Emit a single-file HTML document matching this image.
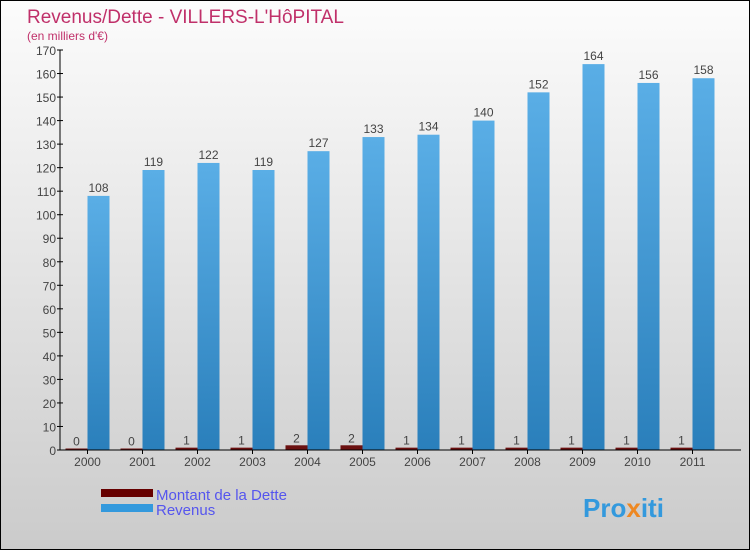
<!DOCTYPE html>
<html><head><meta charset="utf-8"><style>
body{margin:0}
#c{width:748px;height:548px;border:1px solid #000;background:linear-gradient(#fcfcfc,#cbcbcb);position:relative;overflow:hidden;font-family:"Liberation Sans",sans-serif}
</style></head><body>
<div id="c">
<svg id="s" width="748" height="548" xmlns="http://www.w3.org/2000/svg" style="position:absolute;left:0;top:0">
<text x="26" y="22" font-size="19" fill="#c0306a">Revenus/Dette - VILLERS-L'HôPITAL</text>
<text x="26" y="39" font-size="12" fill="#c0306a">(en milliers d'€)</text>
<g id="plot"></g>
<rect x="100" y="488" width="52" height="8" fill="#660000"/>
<text x="155" y="499" font-size="15" fill="#5555ee">Montant de la Dette</text>
<rect x="100" y="503" width="52" height="8" fill="#3399dd"/>
<text x="155" y="514" font-size="15" fill="#5555ee">Revenus</text>
<text x="582" y="516" font-size="26" font-weight="bold" fill="#3399dd">Pro<tspan fill="#ee8822">x</tspan>iti</text>
</svg>
</div>
<script>
const years=["2000","2001","2002","2003","2004","2005","2006","2007","2008","2009","2010","2011"];
const dette=[0,0,1,1,2,2,1,1,1,1,1,1];
const revenus=[108,119,122,119,127,133,134,140,152,164,156,158];
const yTicks=[0,10,20,30,40,50,60,70,80,90,100,110,120,130,140,150,160,170];
const NS="http://www.w3.org/2000/svg";
const g=document.getElementById('plot');
const y0=449,yMax=170,ph=400,x0=59,band=55,bw=22;
const y=v=>y0-v/yMax*ph;
const xc=i=>x0+27.5+i*band;
function mk(t,a){const e=document.createElementNS(NS,t);for(const k in a)e.setAttribute(k,a[k]);g.appendChild(e);return e;}
const gr=document.createElementNS(NS,'linearGradient');gr.id='bg';gr.setAttribute('x1',0);gr.setAttribute('y1',0);gr.setAttribute('x2',0);gr.setAttribute('y2',1);
gr.innerHTML='<stop offset="0" stop-color="#5aaee6"/><stop offset="1" stop-color="#2a7fbb"/>';
const defs=document.createElementNS(NS,'defs');defs.appendChild(gr);g.appendChild(defs);
years.forEach((yr,i)=>{
  const dh=Math.max(y0-y(dette[i]),1.5);
  const d=mk('rect',{x:xc(i)-bw,y:y0-dh,width:bw,height:dh,fill:'#6b1010'});
  
  
  const r=mk('rect',{x:xc(i),y:y(revenus[i]),width:bw,height:y0-y(revenus[i]),fill:'url(#bg)'});
  
  
  const t1=mk('text',{x:xc(i)-bw/2,y:y0-dh-3,'font-size':12,fill:'#444','text-anchor':'middle'});t1.textContent=dette[i];
  
  
  const t2=mk('text',{x:xc(i)+bw/2,y:y(revenus[i])-4,'font-size':12,fill:'#444','text-anchor':'middle'});t2.textContent=revenus[i];
  
  
  const tl=mk('text',{x:xc(i),y:y0+16,'font-size':12,fill:'#444','text-anchor':'middle'});tl.textContent=yr;
  
  
});
yTicks.forEach(v=>{
  mk('line',{x1:x0-3,x2:x0+3,y1:y(v),y2:y(v),stroke:'#000'});
  const t=mk('text',{x:x0-4,y:y(v)+5,'font-size':12,fill:'#444','text-anchor':'end'});t.textContent=v;
  
  
});
const ya=mk('line',{x1:x0,x2:x0,y1:y(yMax),y2:y0,stroke:'#000'});


const xa=mk('line',{x1:x0,x2:740,y1:y0,y2:y0,stroke:'#000'});


years.forEach((yr,i)=>mk('line',{x1:xc(i),x2:xc(i),y1:y0,y2:y0+4,stroke:'#000'}));
</script>
</body></html>
